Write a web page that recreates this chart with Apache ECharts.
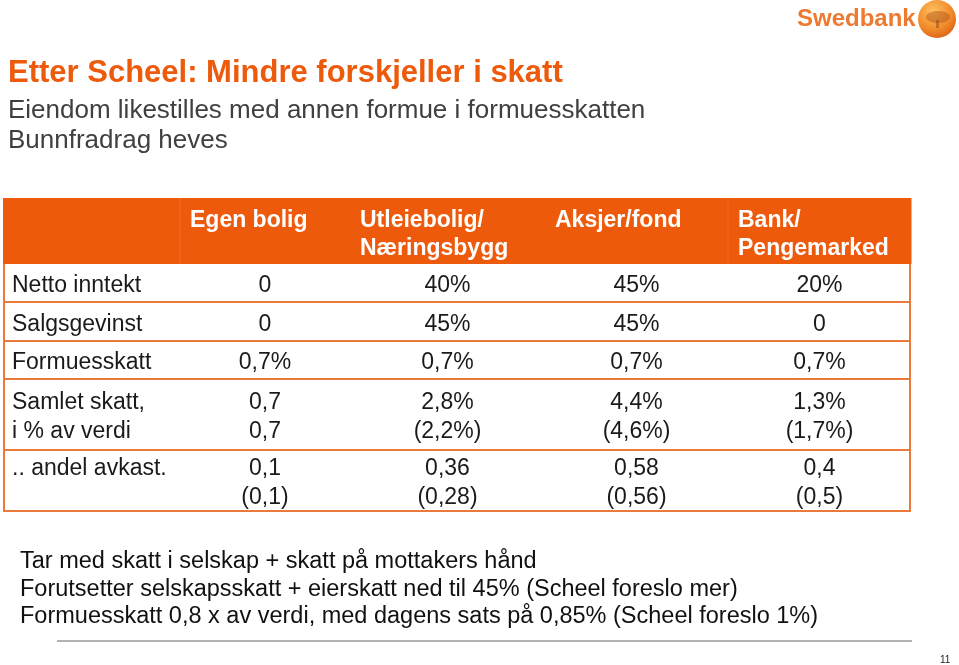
<!DOCTYPE html>
<html>
<head>
<meta charset="utf-8">
<script src="https://cdn.jsdelivr.net/npm/echarts@6/dist/echarts.min.js"></script>
<style>
  html, body { margin: 0; padding: 0; background: #fff; }
  #chart { width: 959px; height: 665px; }
</style>
</head>
<body>
<div id="chart"></div>
<script>
// --- table content ---
const headers   = ['', 'Egen bolig', 'Utleiebolig/\nNæringsbygg', 'Aksjer/fond', 'Bank/\nPengemarked'];
const rowLabels = ['Netto inntekt', 'Salgsgevinst', 'Formuesskatt', 'Samlet skatt,\ni % av verdi', '.. andel avkast.'];
const egenBolig = ['0', '0', '0,7%', '0,7\n0,7', '0,1\n(0,1)'];
const utleie    = ['40%', '45%', '0,7%', '2,8%\n(2,2%)', '0,36\n(0,28)'];
const aksjer    = ['45%', '45%', '0,7%', '4,4%\n(4,6%)', '0,58\n(0,56)'];
const bank      = ['20%', '0', '0,7%', '1,3%\n(1,7%)', '0,4\n(0,5)'];

const notes = [
  'Tar med skatt i selskap + skatt på mottakers hånd',
  'Forutsetter selskapsskatt + eierskatt ned til 45% (Scheel foreslo mer)',
  'Formuesskatt 0,8 x av verdi, med dagens sats på 0,85% (Scheel foreslo 1%)'
];

// --- layout (table units = px inside the grid) ---
const colEdges = [0, 177, 347, 542, 725, 908];
const rowHeights = [66, 38, 39, 38, 71, 61];
const rowEdges = rowHeights.reduce((acc, h) => { acc.push(acc[acc.length - 1] + h); return acc; }, [0]);
const tableH = rowEdges[rowEdges.length - 1];
const LH = 29;

const ORANGE = '#EE5A0C';
const LINE = '#EB7A3A';
const FONT = '"Liberation Sans", Arial, sans-serif';

// one item per cell: [col, row, text]
const cells = [];
headers.forEach((h, c) => cells.push([c, 0, h]));
const valueCols = [egenBolig, utleie, aksjer, bank];
rowLabels.forEach((lab, r) => {
  cells.push([0, r + 1, lab]);
  valueCols.forEach((col, c) => cells.push([c + 1, r + 1, col[r]]));
});
// lines per body row (tallest cell)
const rowLines = [0].concat(rowLabels.map((lab, r) =>
  Math.max(lab.split('\n').length, ...valueCols.map(col => col[r].split('\n').length))));

function renderCell(params, api) {
  const c = api.value(0), r = api.value(1);
  const text = cells[params.dataIndex][2];
  const p0 = api.coord([colEdges[c], rowEdges[r]]);
  const p1 = api.coord([colEdges[c + 1], rowEdges[r + 1]]);
  const x0 = p0[0], y0 = p0[1], x1 = p1[0], y1 = p1[1];
  const children = [];

  if (r === 0) {
    children.push({ type: 'rect', shape: { x: x0, y: y0, width: x1 - x0 + 0.5, height: y1 - y0 },
      style: { fill: ORANGE } });
    if (c === 1 || c === 4) {
      children.push({ type: 'line', shape: { x1: x0, y1: y0, x2: x0, y2: y1 },
        style: { stroke: '#F06A22', lineWidth: 1 } });
    }
    children.push({ type: 'text', x: x0 + 10, y: y0 + 9,
      style: { text, fill: '#fff', font: 'bold 23px ' + FONT, lineHeight: 28, verticalAlign: 'top', align: 'left' } });
  } else {
    children.push({ type: 'line', shape: { x1: x0, y1: y1, x2: x1, y2: y1 },
      style: { stroke: LINE, lineWidth: 2 } });
    if (c === 0) children.push({ type: 'line', shape: { x1: x0 + 1, y1: y0, x2: x0 + 1, y2: y1 },
      style: { stroke: LINE, lineWidth: 2 } });
    if (c === 4) children.push({ type: 'line', shape: { x1: x1 - 1, y1: y0, x2: x1 - 1, y2: y1 + 1 },
      style: { stroke: LINE, lineWidth: 2 } });
    const left = c === 0;
    // text block starts at the top of the row's centred line block
    const top = (y0 + y1) / 2 + 3 - rowLines[r] * LH / 2;
    children.push({ type: 'text', x: left ? x0 + 9 : (x0 + x1) / 2, y: top,
      style: { text, fill: '#1a1a1a', font: '23px ' + FONT, lineHeight: LH,
        align: left ? 'left' : 'center', verticalAlign: 'top' } });
  }
  return { type: 'group', children };
}

const chart = echarts.init(document.getElementById('chart'));
chart.setOption({
  backgroundColor: '#fff',
  animation: false,
  grid: { left: 3, top: 198, width: colEdges[colEdges.length - 1], height: tableH },
  xAxis: { type: 'value', min: 0, max: colEdges[colEdges.length - 1], show: false },
  yAxis: { type: 'value', min: 0, max: tableH, inverse: true, show: false },
  series: [{
    type: 'custom',
    renderItem: renderCell,
    data: cells.map(d => [d[0], d[1]]),
    clip: false,
    silent: true
  }],
  graphic: [
    { type: 'text', left: 8, top: 58,
      style: { text: 'Etter Scheel: Mindre forskjeller i skatt', fill: ORANGE, font: 'bold 31px ' + FONT } },
    { type: 'text', left: 8, top: 98,
      style: { text: 'Eiendom likestilles med annen formue i formuesskatten', fill: '#404040', font: '26px ' + FONT } },
    { type: 'text', left: 8, top: 128,
      style: { text: 'Bunnfradrag heves', fill: '#404040', font: '26px ' + FONT } },
    // logo
    { type: 'text', left: 797, top: 7,
      style: { text: 'Swedbank', fill: '#EE7A30', font: 'bold 24px ' + FONT } },
    { type: 'circle', shape: { cx: 937, cy: 19, r: 19 },
      style: { fill: new echarts.graphic.RadialGradient(0.4, 0.3, 0.8, [
        { offset: 0, color: '#FFC060' }, { offset: 0.6, color: '#F08A2A' }, { offset: 1, color: '#D85A10' }]) } },
    { type: 'ellipse', shape: { cx: 938, cy: 17, rx: 12, ry: 6 },
      style: { fill: 'rgba(170,80,20,0.45)' } },
    { type: 'rect', shape: { x: 936, y: 20, width: 3, height: 8 },
      style: { fill: 'rgba(150,70,20,0.5)' } },
    { type: 'text', left: 20, top: 550,
      style: { text: notes[0], fill: '#111', font: '23.5px ' + FONT } },
    { type: 'text', left: 20, top: 578,
      style: { text: notes[1], fill: '#111', font: '23.5px ' + FONT } },
    { type: 'text', left: 20, top: 605,
      style: { text: notes[2], fill: '#111', font: '23.5px ' + FONT } },
    { type: 'line', shape: { x1: 57, y1: 641, x2: 912, y2: 641 },
      style: { stroke: '#9a9a9a', lineWidth: 1.5 } },
    { type: 'text', left: 940, top: 655,
      style: { text: '11', fill: '#222', font: '10px ' + FONT } }
  ]
});
</script>
</body>
</html>
